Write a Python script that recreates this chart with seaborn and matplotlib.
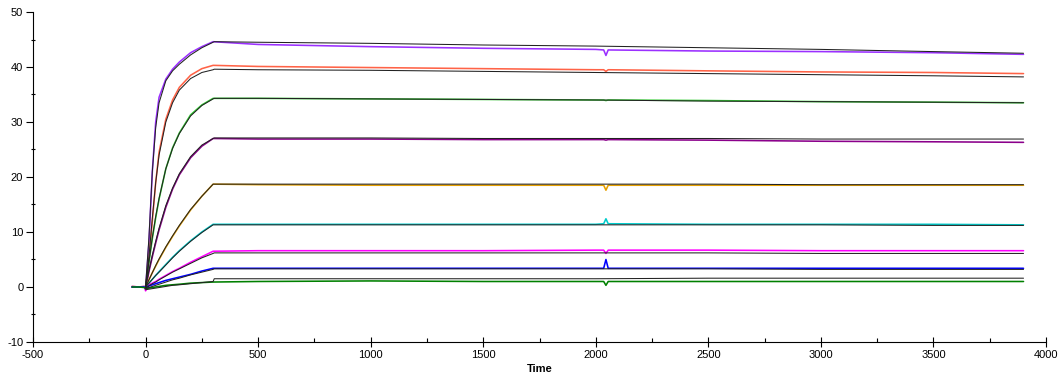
import numpy as np
import pandas as pd
import matplotlib
matplotlib.use('Agg')
import matplotlib.pyplot as plt
import seaborn as sns
from matplotlib.ticker import MultipleLocator

# measured responses (sample times in s)
t_data = [-60, -30, -5, 0, 15, 30, 45, 60, 90, 120, 150, 200, 250, 300,
          500, 1000, 1500, 2000, 2035, 2045, 2055, 2500, 3000, 3500, 3900]

resp_1 = [0.1, 0, 0.1, -0.3, 8, 21, 30, 34.5, 37.8, 39.6, 40.9, 42.6, 43.7, 44.6,
          44.1, 43.7, 43.4, 43.2, 43.1, 42.1, 43.1, 42.9, 42.8, 42.6, 42.3]
resp_2 = [0.1, 0, 0.1, -0.2, 5, 12, 19, 24.5, 30.5, 34, 36.3, 38.5, 39.7, 40.3,
          40.1, 39.9, 39.7, 39.5, 39.5, 39.2, 39.5, 39.3, 39.1, 39.0, 38.8]
resp_3 = [0, 0, 0, -0.2, 4.5, 8.8, 12.6, 16, 21.5, 25.3, 28, 31.3, 33.1, 34.3,
          34.3, 34.2, 34.1, 34.0, 34.0, 33.9, 34.0, 33.9, 33.7, 33.6, 33.5]
resp_4 = [0, 0, 0, -0.4, 2.8, 5.5, 8, 10.4, 14.5, 17.8, 20.4, 23.5, 25.6, 27.0,
          26.9, 26.9, 26.8, 26.8, 26.8, 26.7, 26.8, 26.7, 26.5, 26.4, 26.3]
resp_5 = [0, 0, 0, -0.2, 1.3, 2.6, 3.8, 5, 7.2, 9.2, 11.1, 14, 16.5, 18.7,
          18.6, 18.5, 18.5, 18.5, 18.5, 17.6, 18.5, 18.5, 18.5, 18.5, 18.5]
resp_6 = [0, 0, 0, -0.1, 0.7, 1.4, 2.1, 2.8, 4.1, 5.4, 6.6, 8.4, 10, 11.4,
          11.4, 11.4, 11.4, 11.4, 11.5, 12.4, 11.5, 11.4, 11.4, 11.4, 11.3]
resp_7 = [0, 0, 0, -0.7, 0.4, 0.7, 1.0, 1.4, 2.1, 2.8, 3.4, 4.5, 5.5, 6.5,
          6.6, 6.6, 6.6, 6.7, 6.7, 6.1, 6.7, 6.7, 6.6, 6.6, 6.6]
resp_8 = [0, 0, 0, -0.2, 0.2, 0.4, 0.6, 0.8, 1.2, 1.5, 1.8, 2.3, 2.9, 3.4,
          3.4, 3.4, 3.4, 3.4, 3.4, 5.0, 3.4, 3.4, 3.4, 3.4, 3.4]
resp_9 = [0, 0, -0.1, -0.3, -0.2, -0.1, 0.0, 0.1, 0.3, 0.4, 0.5, 0.7, 0.8, 0.9,
          1.0, 1.1, 1.0, 1.0, 1.0, 0.3, 1.0, 1.0, 1.0, 1.0, 1.0]

# fitted curves
t_fit = [0, 15, 30, 45, 60, 90, 120, 150, 200, 250, 300, 305,
         500, 1000, 1500, 2000, 2500, 3000, 3500, 3900]

fit_1 = [0, 9, 21, 29, 33.5, 37.5, 39.3, 40.5, 42.2, 43.5, 44.5, 44.6,
         44.5, 44.3, 44.0, 43.8, 43.5, 43.2, 42.8, 42.5]
fit_2 = [0, 5.5, 12.5, 19, 24, 30, 33.5, 35.8, 37.9, 39, 39.5, 39.6,
         39.5, 39.4, 39.2, 39.0, 38.8, 38.6, 38.4, 38.2]
fit_3 = [0, 4.6, 9, 12.8, 16.1, 21.5, 25.2, 27.9, 31.1, 33, 34.2, 34.3,
         34.3, 34.2, 34.1, 34.0, 33.8, 33.7, 33.6, 33.5]
fit_4 = [0, 3, 5.8, 8.3, 10.7, 14.8, 18, 20.6, 23.7, 25.8, 27.0, 27.1,
         27.1, 27.1, 27.0, 27.0, 27.0, 26.9, 26.9, 26.9]
fit_5 = [0, 1.3, 2.6, 3.9, 5.1, 7.3, 9.3, 11.2, 14.1, 16.5, 18.7, 18.7,
         18.7, 18.7, 18.7, 18.7, 18.7, 18.6, 18.6, 18.6]
fit_6 = [0, 0.7, 1.4, 2.1, 2.7, 4.0, 5.3, 6.5, 8.3, 9.9, 11.3, 11.3,
         11.3, 11.3, 11.3, 11.3, 11.3, 11.3, 11.2, 11.2]
fit_7 = [-0.2, 0.2, 0.6, 0.9, 1.3, 2.0, 2.7, 3.3, 4.3, 5.3, 6.1, 6.2,
         6.2, 6.2, 6.2, 6.2, 6.2, 6.1, 6.1, 6.1]
fit_8 = [-0.3, -0.1, 0.1, 0.3, 0.5, 0.9, 1.3, 1.6, 2.2, 2.7, 3.2, 3.3,
         3.3, 3.3, 3.3, 3.3, 3.3, 3.2, 3.2, 3.2]
fit_9 = [-0.5, -0.4, -0.3, -0.2, -0.1, 0.1, 0.3, 0.4, 0.6, 0.8, 1.0, 1.5,
         1.5, 1.5, 1.5, 1.5, 1.6, 1.6, 1.6, 1.6]

responses = [resp_1, resp_2, resp_3, resp_4, resp_5, resp_6, resp_7, resp_8, resp_9]
fits = [fit_1, fit_2, fit_3, fit_4, fit_5, fit_6, fit_7, fit_8, fit_9]
colors = ['#9b30ff', '#ff6347', '#33cc33', '#8b008b', '#e6a000',
          '#00cccc', '#ff00ff', '#0000ff', '#008000']

sns.set_style('ticks')
plt.rcParams['font.family'] = ['Liberation Sans', 'DejaVu Sans']
plt.rcParams['axes.unicode_minus'] = False
plt.rcParams['text.color'] = 'black'
plt.rcParams['xtick.color'] = 'black'
plt.rcParams['ytick.color'] = 'black'
plt.rcParams['axes.edgecolor'] = 'black'
plt.rcParams['axes.labelcolor'] = 'black'

fig = plt.figure(figsize=(10.58, 3.81), dpi=100)
ax = fig.add_axes([0.0312, 0.1024, 0.9575, 0.8661])

# data slightly wider, fits drawn thinner on top so both stay visible
for resp, col in zip(responses, colors):
    sns.lineplot(x=t_data, y=resp, color=col, linewidth=1.15, ax=ax,
                 estimator=None, sort=False)
for fit in fits:
    sns.lineplot(x=t_fit, y=fit, color='#222222', linewidth=0.75, ax=ax,
                 estimator=None, sort=False)

ax.set_xlim(-500, 4000)
ax.set_ylim(-10, 50)
ax.xaxis.set_major_locator(MultipleLocator(500))
ax.xaxis.set_minor_locator(MultipleLocator(250))
ax.yaxis.set_major_locator(MultipleLocator(10))
ax.yaxis.set_minor_locator(MultipleLocator(5))
ax.tick_params(axis='x', which='major', direction='inout', length=7, width=0.8,
               labelsize=8, pad=2)
ax.tick_params(axis='x', which='minor', direction='in', length=3, width=0.8)
ax.tick_params(axis='y', which='major', direction='out', length=5, width=0.8,
               labelsize=8, pad=2)
ax.tick_params(axis='y', which='minor', direction='inout', length=3, width=0.8)
sns.despine(ax=ax)
ax.spines['left'].set_linewidth(0.8)
ax.spines['bottom'].set_linewidth(0.8)
ax.set_xlabel('Time', fontsize=8, fontweight='bold', labelpad=3)
ax.set_ylabel('')

fig.savefig('out.png', dpi=100)
